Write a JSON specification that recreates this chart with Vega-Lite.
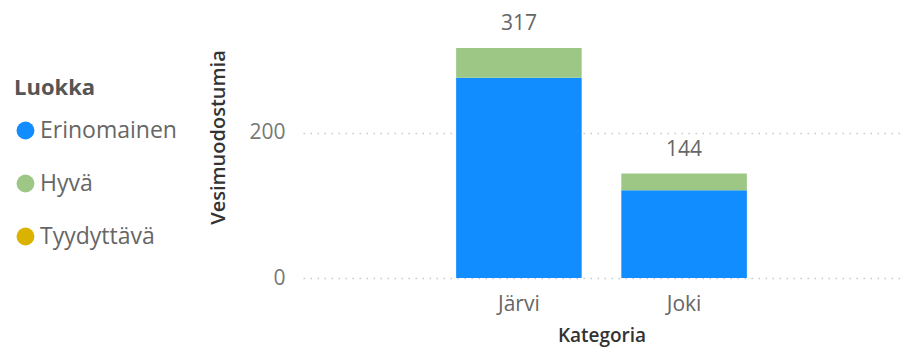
{
  "$schema": "https://vega.github.io/schema/vega-lite/v6.json",
  "width": 597,
  "height": 238,
  "autosize": "none",
  "padding": {"left": 303, "top": 40, "right": 0, "bottom": 75},
  "background": "white",
  "config": {
    "font": "Open Sans",
    "view": {"stroke": null}
  },
  "data": {
    "values": [
      {"Kategoria": "Järvi", "Luokka": "Erinomainen", "Vesimuodostumia": 276},
      {"Kategoria": "Järvi", "Luokka": "Hyvä", "Vesimuodostumia": 41},
      {"Kategoria": "Järvi", "Luokka": "Tyydyttävä", "Vesimuodostumia": 0},
      {"Kategoria": "Joki", "Luokka": "Erinomainen", "Vesimuodostumia": 121},
      {"Kategoria": "Joki", "Luokka": "Hyvä", "Vesimuodostumia": 23},
      {"Kategoria": "Joki", "Luokka": "Tyydyttävä", "Vesimuodostumia": 0}
    ]
  },
  "encoding": {
    "x": {
      "field": "Kategoria",
      "type": "nominal",
      "sort": ["Järvi", "Joki"],
      "scale": {"paddingInner": 0.24, "paddingOuter": 0.927},
      "axis": {
        "title": "Kategoria",
        "labelAngle": 0,
        "labelFontSize": 21,
        "labelColor": "#666666",
        "labelPadding": 15,
        "ticks": false,
        "domain": false,
        "titleFontSize": 19,
        "titleFontWeight": 600,
        "titleColor": "#333333",
        "titlePadding": 12
      }
    }
  },
  "layer": [
    {
      "mark": {"type": "bar"},
      "encoding": {
        "y": {
          "field": "Vesimuodostumia",
          "type": "quantitative",
          "aggregate": "sum",
          "stack": "zero",
          "scale": {"domain": [0, 328], "nice": false},
          "axis": {
            "title": "Vesimuodostumia",
            "values": [0, 200],
            "labelFontSize": 21,
            "labelColor": "#777777",
            "labelPadding": 18,
            "ticks": false,
            "domain": false,
            "grid": true,
            "gridColor": "#c8c8c8",
            "gridDash": [1.5, 5.5],
            "gridWidth": 1.5,
            "titleFontSize": 20,
            "titleFontWeight": 600,
            "titleColor": "#333333",
            "titleX": -85,
            "titleY": 97,
            "titleAlign": "center",
            "titleBaseline": "middle",
            "titleAngle": -90
          }
        },
        "color": {
          "field": "Luokka",
          "type": "nominal",
          "scale": {
            "domain": ["Erinomainen", "Hyvä", "Tyydyttävä"],
            "range": ["#118DFF", "#9CC784", "#D9B300"]
          },
          "legend": {
            "title": "Luokka",
            "orient": "none",
            "legendX": -289,
            "legendY": 38,
            "titleFontSize": 22,
            "titleFontWeight": 700,
            "titleColor": "#555555",
            "titlePadding": 19,
            "labelFontSize": 23,
            "labelColor": "#666666",
            "labelOffset": 3,
            "symbolType": "circle",
            "symbolSize": 320,
            "symbolStrokeWidth": 0,
            "rowPadding": 29
          }
        },
        "order": {"field": "Luokka", "sort": "ascending"}
      }
    },
    {
      "mark": {"type": "text", "baseline": "bottom", "dy": -14, "fontSize": 21, "color": "#666666"},
      "encoding": {
        "y": {"field": "Vesimuodostumia", "type": "quantitative", "aggregate": "sum"},
        "text": {"field": "Vesimuodostumia", "type": "quantitative", "aggregate": "sum"}
      }
    }
  ]
}
